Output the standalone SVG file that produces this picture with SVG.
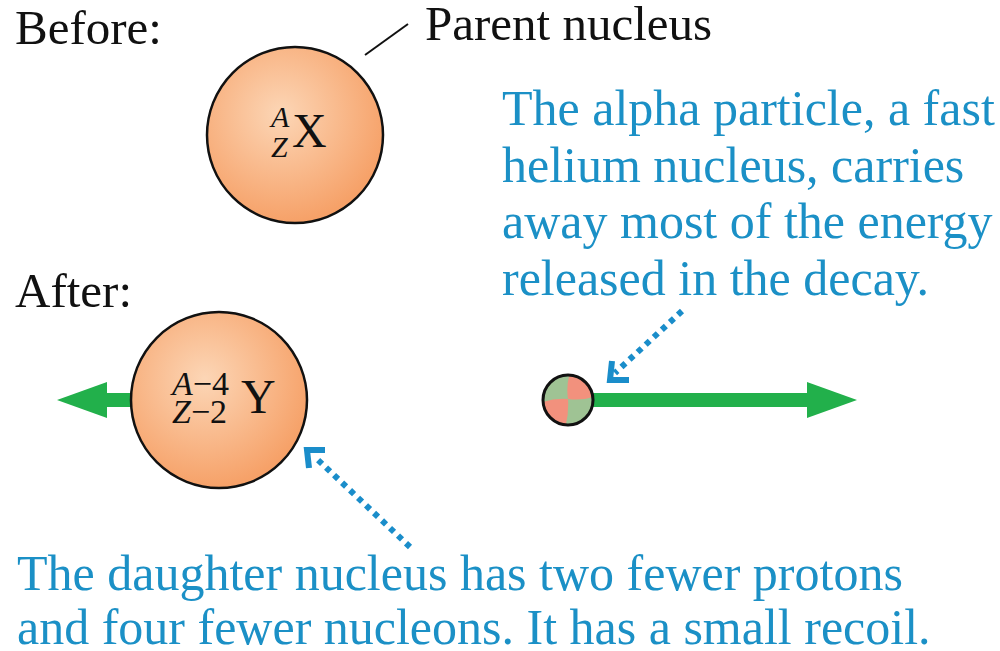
<svg xmlns="http://www.w3.org/2000/svg" width="1000" height="651" viewBox="0 0 1000 651">
<defs>
<radialGradient id="nuc" cx="0.42" cy="0.38" r="0.62">
<stop offset="0" stop-color="#fcd6b6"/>
<stop offset="1" stop-color="#f6a168"/>
</radialGradient>
<clipPath id="aclip"><circle cx="568" cy="400" r="25"/></clipPath>
</defs>
<style>
.lbl{font-family:"Liberation Serif","Times New Roman",serif;fill:#111;font-size:49px}
.note{font-family:"Liberation Serif","Times New Roman",serif;fill:#1b90c6;font-size:50px}
.sym{font-family:"Liberation Serif","Times New Roman",serif;fill:#111}
.it{font-style:italic}
.nucleus{fill:url(#nuc);stroke:#111;stroke-width:2.5}
.green{fill:#22b04b}
.dot{fill:none;stroke:#1a8dca;stroke-width:6;stroke-dasharray:5.5 5.5}
.chev{fill:none;stroke:#1a8dca;stroke-width:6;stroke-linecap:butt;stroke-linejoin:miter}
</style>
<text class="lbl" x="15" y="44">Before:</text>
<text class="lbl" x="15" y="307">After:</text>
<g id="connectors">
<line x1="365" y1="55" x2="408" y2="24" stroke="#111" stroke-width="2"/>
<g id="recoil-arrow">
<rect class="green" x="100" y="393" width="34" height="14"/>
<polygon class="green" points="107,382 57,400 107,418"/>
</g>
<g id="alpha-arrow">
<rect class="green" x="590" y="393" width="220" height="14"/>
<polygon class="green" points="807,382 857,400 807,418"/>
</g>
<g id="pointer-alpha">
<line class="dot" x1="682" y1="311" x2="615" y2="373"/>
<polyline class="chev" points="612,361 610,380 629,380"/>
</g>
<g id="pointer-daughter">
<line class="dot" x1="410" y1="547" x2="317" y2="459"/>
<polyline class="chev" points="325,450 307,450 309,468"/>
</g>
</g>
<g id="parent">
<circle class="nucleus" cx="295" cy="135" r="88"/>
<text class="sym it" x="271" y="127" font-size="30">A</text>
<text class="sym it" x="271" y="157" font-size="30">Z</text>
<text class="sym" x="292" y="147" font-size="48">X</text>
</g>
<g id="daughter">
<circle class="nucleus" cx="219" cy="400" r="88"/>
<text class="sym" x="172" y="395" font-size="34"><tspan class="it">A</tspan>−4</text>
<text class="sym" x="172" y="423" font-size="34"><tspan class="it">Z</tspan>−2</text>
<text class="sym" x="241" y="413" font-size="48">Y</text>
</g>
<g id="alpha">
<g clip-path="url(#aclip)">
<rect x="540" y="372" width="56" height="56" fill="#9fc394"/>
<path d="M570,372 Q566,386 568,399 Q583,401 596,396 L596,372 Z" fill="#f2917d"/>
<path d="M540,403 Q553,398 568,399 Q569,414 565,428 L540,428 Z" fill="#f2917d"/>
</g>
<circle cx="568" cy="400" r="25" fill="none" stroke="#111" stroke-width="3"/>
</g>
<g id="parent-label"><text class="lbl" x="425" y="40">Parent nucleus</text></g>
<g id="alpha-note">
<text class="note" x="502" y="125">The alpha particle, a fast</text>
<text class="note" x="502" y="182">helium nucleus, carries</text>
<text class="note" x="502" y="238">away most of the energy</text>
<text class="note" x="502" y="295">released in the decay.</text>
</g>
<g id="daughter-note">
<text class="note" x="17" y="590">The daughter nucleus has two fewer protons</text>
<text class="note" x="17" y="644">and four fewer nucleons. It has a small recoil.</text>
</g>
</svg>
